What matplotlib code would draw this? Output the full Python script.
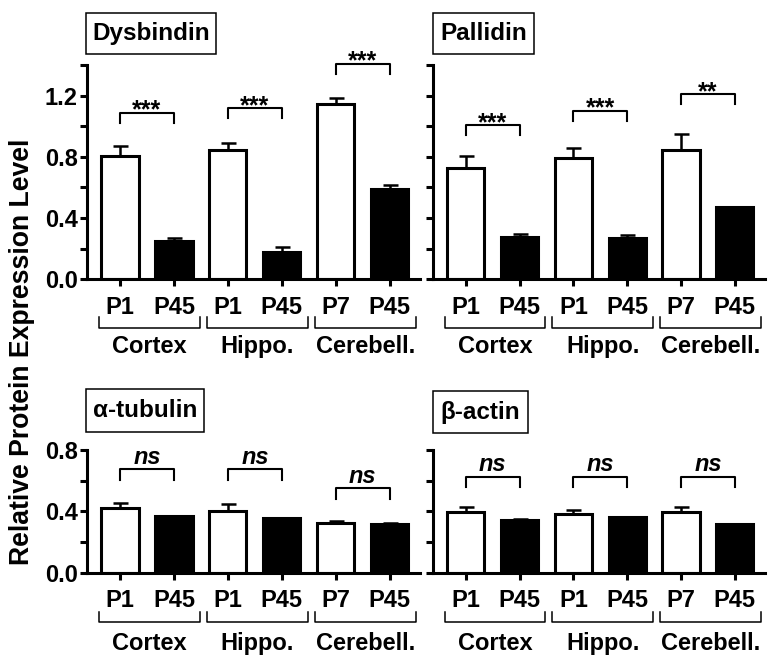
import matplotlib
matplotlib.use('Agg')
import matplotlib.pyplot as plt
from matplotlib.patches import Rectangle
import numpy as np

plt.rcParams['font.family'] = ['Liberation Sans', 'DejaVu Sans']
plt.rcParams['font.weight'] = 'bold'

# ---------------- data ----------------
ages = ['P1', 'P45', 'P1', 'P45', 'P7', 'P45']
regions = ['Cortex', 'Hippo.', 'Cerebell.']
proteins = ['Dysbindin', 'Pallidin', 'α-tubulin', 'β-actin']

dysbindin_mean = [0.808, 0.251, 0.847, 0.179, 1.144, 0.588]
dysbindin_sem = [0.066, 0.017, 0.046, 0.035, 0.039, 0.029]
pallidin_mean = [0.725, 0.279, 0.791, 0.270, 0.847, 0.471]
pallidin_sem = [0.079, 0.015, 0.070, 0.018, 0.103, 0.004]
tubulin_mean = [0.424, 0.367, 0.402, 0.354, 0.326, 0.317]
tubulin_sem = [0.030, 0.005, 0.044, 0.004, 0.010, 0.007]
actin_mean = [0.398, 0.346, 0.380, 0.363, 0.396, 0.317]
actin_sem = [0.030, 0.003, 0.031, 0.003, 0.032, 0.003]

dysbindin_sig = ['***', '***', '***']
pallidin_sig = ['***', '***', '**']
tubulin_sig = ['ns', 'ns', 'ns']
actin_sig = ['ns', 'ns', 'ns']

dysbindin_bracket = [1.087, 1.118, 1.407]
pallidin_bracket = [1.008, 1.100, 1.209]
tubulin_bracket = [0.676, 0.676, 0.552]
actin_bracket = [0.627, 0.627, 0.627]

# ---------------- layout ----------------
W, H = 780, 658
fig = plt.figure(figsize=(W / 100, H / 100), dpi=100)


def px_axes(x0, x1, ytop, ybot):
    return fig.add_axes([x0 / W, 1 - ybot / H, (x1 - x0) / W, (ybot - ytop) / H])


panels = [
    dict(box=(86, 216, 13, 54), ax=(87, 420, 65, 279.3), ymax=1.4, leg=0.065,
         name=proteins[0], mean=dysbindin_mean, sem=dysbindin_sem,
         sig=dysbindin_sig, br=dysbindin_bracket, labels=True, row=0),
    dict(box=(433, 534, 13, 54), ax=(433, 765, 65, 279.3), ymax=1.4, leg=0.065,
         name=proteins[1], mean=pallidin_mean, sem=pallidin_sem,
         sig=pallidin_sig, br=pallidin_bracket, labels=False, row=0),
    dict(box=(86, 204, 389, 432), ax=(87, 420, 450, 572.7), ymax=0.8, leg=0.07,
         name=proteins[2], mean=tubulin_mean, sem=tubulin_sem,
         sig=tubulin_sig, br=tubulin_bracket, labels=True, row=1),
    dict(box=(433, 528, 391, 433), ax=(433, 765, 450, 572.7), ymax=0.8, leg=0.07,
         name=proteins[3], mean=actin_mean, sem=actin_sem,
         sig=actin_sig, br=actin_bracket, labels=False, row=1),
]

x = np.arange(len(ages))
colors = ['white', 'black'] * 3

for p in panels:
    x0, x1, yt, yb = p['ax']
    ax = px_axes(x0, x1, yt, yb)
    ah = yb - yt
    ax.bar(x, p['mean'], width=0.69, color=colors, edgecolor='black',
           linewidth=2.2, zorder=2)
    ax.errorbar(x, p['mean'], yerr=[np.zeros(len(x)), p['sem']], fmt='none',
                ecolor='black', elinewidth=1.8, capsize=5.4, capthick=1.8,
                zorder=3)
    ax.set_xlim(-0.61, 5.56)
    ax.set_ylim(0, p['ymax'])
    ax.set_xticks(x)
    ax.set_xticklabels(ages)
    ax.set_yticks(np.arange(0, p['ymax'] + 0.01, 0.4))
    ax.set_yticks(np.arange(0, p['ymax'] + 0.01, 0.2), minor=True)
    ax.set_yticklabels(['%.1f' % v for v in np.arange(0, p['ymax'] + 0.01, 0.4)])
    for s in ['top', 'right']:
        ax.spines[s].set_visible(False)
    for s in ['left', 'bottom']:
        ax.spines[s].set_linewidth(2.2)
    ax.tick_params(axis='both', which='both', direction='out', width=2.2,
                   length=5.2, color='black', labelsize=17)
    ax.tick_params(axis='x', pad=6.5)
    ax.tick_params(axis='y', pad=1.5)
    if not p['labels']:
        ax.tick_params(axis='y', labelleft=False)

    # significance brackets
    for i in range(3):
        a, b = x[2 * i], x[2 * i + 1]
        yv = p['br'][i]
        ax.plot([a, a, b, b], [yv - p['leg'], yv, yv, yv - p['leg']],
                color='black', lw=1.5, clip_on=False, zorder=4)
        if p['sig'][i] == 'ns':
            ax.annotate('ns', xy=((a + b) / 2, yv), xytext=(0, 3.8),
                        textcoords='offset points', ha='center', va='baseline',
                        fontsize=17, fontstyle='italic', fontweight='bold',
                        annotation_clip=False)
        else:
            ax.annotate(p['sig'][i], xy=((a + b) / 2, yv), xytext=(0, -3.5),
                        textcoords='offset points', ha='center', va='baseline',
                        fontsize=18, fontweight='bold', annotation_clip=False)

    # region brackets under the axis
    tr = ax.get_xaxis_transform()
    if p['row'] == 0:
        yline, yleg, ylab = 48.5, 37.5, 74.0
    else:
        yline, yleg, ylab = 49.6, 39.6, 77.5
    for i in range(3):
        a = x[2 * i] - 0.39
        b = x[2 * i + 1] + 0.48
        ax.plot([a, a, b, b], [-yleg / ah, -yline / ah, -yline / ah, -yleg / ah],
                transform=tr, color='black', lw=1.1, clip_on=False)
        ax.text((a + b) / 2, -ylab / ah, regions[i], transform=tr,
                ha='center', va='baseline', fontsize=17, fontweight='bold')

    # title box
    bx0, bx1, by0, by1 = p['box']
    fig.add_artist(Rectangle((bx0 / W, 1 - by1 / H), (bx1 - bx0) / W, (by1 - by0) / H,
                             transform=fig.transFigure, facecolor='white',
                             edgecolor='black', lw=1.1))
    fig.text((bx0 + bx1) / 2 / W, 1 - (by0 + by1) / 2 / H, p['name'],
             ha='center', va='center', fontsize=17.5, fontweight='bold')

fig.text(22 / W, 1 - 352 / H, 'Relative Protein Expression Level', rotation=90,
         ha='center', va='center', fontsize=19.2, fontweight='bold')

fig.savefig('out.png', dpi=100)
